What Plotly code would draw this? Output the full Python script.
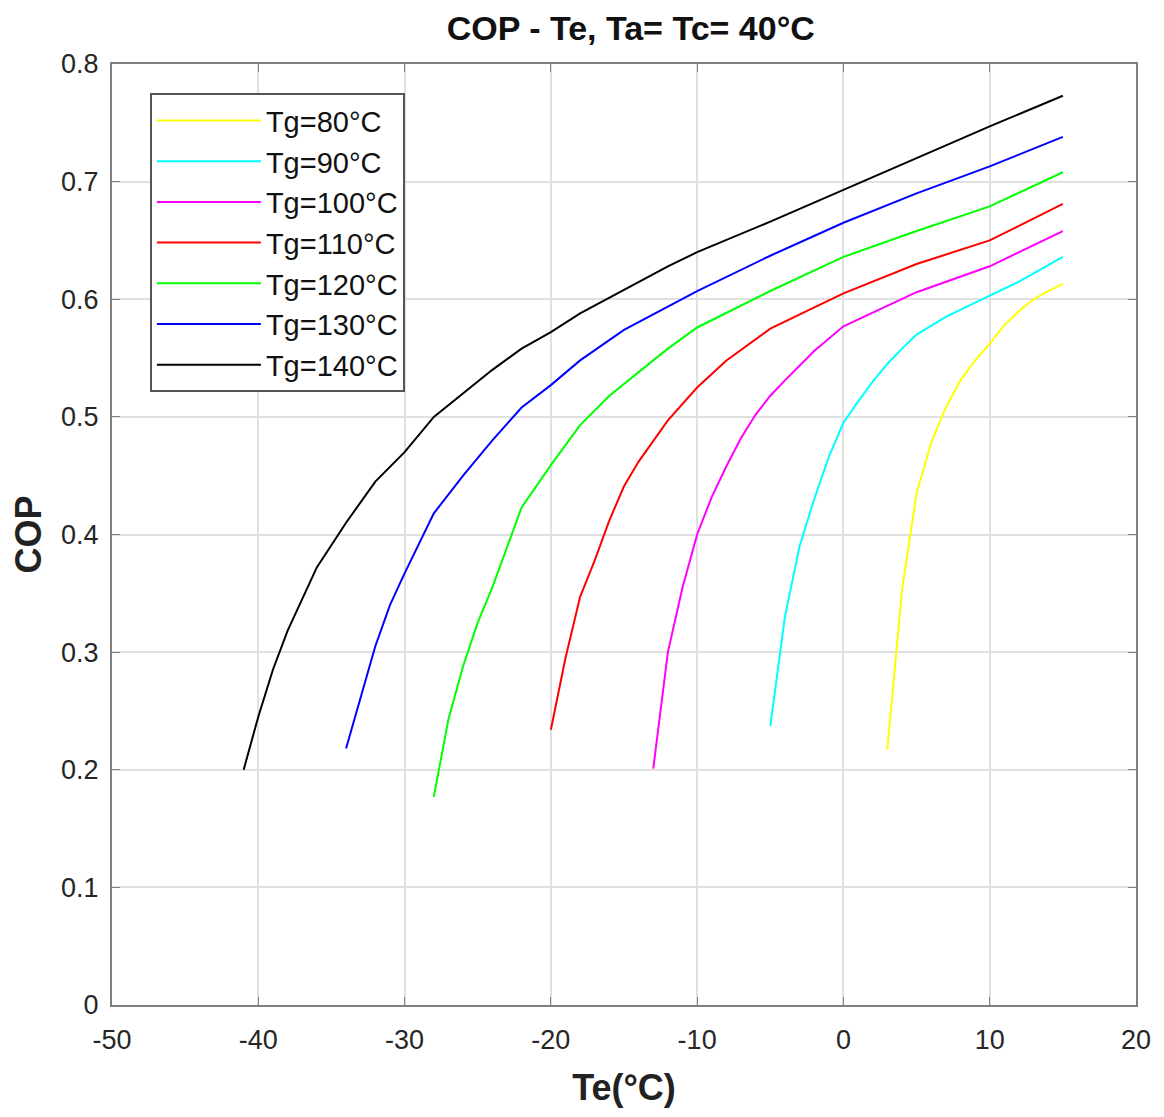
import plotly.graph_objects as go

# COP vs evaporator temperature for each generator temperature
labels = ["Tg=80°C", "Tg=90°C", "Tg=100°C", "Tg=110°C", "Tg=120°C", "Tg=130°C", "Tg=140°C"]
colors = ["#ffff00", "#00ffff", "#ff00ff", "#ff0000", "#00ff00", "#0000ff", "#000000"]

te_80 = [3, 4, 5, 6, 7, 8, 9, 10, 11, 12, 13, 14, 15]
cop_80 = [0.217, 0.352, 0.435, 0.478, 0.508, 0.531, 0.548, 0.562, 0.578, 0.590, 0.600, 0.607, 0.613]

te_90 = [-5, -4, -3, -2, -1, 0, 1, 2, 3, 4, 5, 7, 10, 12, 15]
cop_90 = [0.237, 0.330, 0.390, 0.430, 0.466, 0.495, 0.513, 0.530, 0.545, 0.558, 0.570, 0.585, 0.603, 0.615, 0.636]

te_100 = [-13, -12, -11, -10, -9, -8, -7, -6, -5, -4, -2, 0, 5, 10, 15]
cop_100 = [0.201, 0.300, 0.355, 0.400, 0.432, 0.458, 0.482, 0.502, 0.518, 0.531, 0.556, 0.577, 0.606, 0.628, 0.658]

te_110 = [-20, -19, -18, -17, -16, -15, -14, -12, -10, -8, -5, 0, 5, 10, 15]
cop_110 = [0.234, 0.295, 0.347, 0.378, 0.412, 0.441, 0.462, 0.497, 0.525, 0.548, 0.575, 0.605, 0.630, 0.650, 0.681]

te_120 = [-28, -27, -26, -25, -24, -22, -20, -18, -16, -14, -12, -10, -5, 0, 5, 10, 15]
cop_120 = [0.177, 0.243, 0.288, 0.325, 0.355, 0.423, 0.459, 0.493, 0.518, 0.538, 0.558, 0.576, 0.607, 0.636, 0.658, 0.679, 0.708]

te_130 = [-34, -33, -32, -31, -30, -28, -26, -24, -22, -20, -18, -15, -12, -10, -5, 0, 5, 10, 15]
cop_130 = [0.218, 0.262, 0.305, 0.340, 0.367, 0.418, 0.450, 0.480, 0.508, 0.527, 0.548, 0.574, 0.594, 0.607, 0.637, 0.665, 0.690, 0.713, 0.738]

te_140 = [-41, -40, -39, -38, -36, -34, -32, -30, -28, -26, -24, -22, -20, -18, -15, -12, -10, -5, 0, 5, 10, 15]
cop_140 = [0.200, 0.245, 0.285, 0.318, 0.372, 0.410, 0.445, 0.470, 0.500, 0.520, 0.540, 0.558, 0.572, 0.588, 0.608, 0.628, 0.640, 0.666, 0.693, 0.720, 0.747, 0.773]

x_ticks = [-50, -40, -30, -20, -10, 0, 10, 20]
x_ticktext = ["-50", "-40", "-30", "-20", "-10", "0", "10", "20"]
y_ticks = [0, 0.1, 0.2, 0.3, 0.4, 0.5, 0.6, 0.7, 0.8]
y_ticktext = ["0", "0.1", "0.2", "0.3", "0.4", "0.5", "0.6", "0.7", "0.8"]

series = [(te_80, cop_80), (te_90, cop_90), (te_100, cop_100), (te_110, cop_110),
          (te_120, cop_120), (te_130, cop_130), (te_140, cop_140)]

font_family = "Liberation Sans, Arial, sans-serif"

fig = go.Figure()
for (x, y), name, c in zip(series, labels, colors):
    fig.add_trace(go.Scatter(x=x, y=y, mode="lines", name=name,
                             line=dict(color=c, width=2)))

axis_style = dict(showline=True, mirror="ticks", linecolor="#808080", linewidth=2,
                  ticks="inside", ticklen=8, tickcolor="#808080", tickwidth=1,
                  showgrid=True, gridcolor="#e0e0e0", gridwidth=1.5, zeroline=False,
                  tickfont=dict(size=27, color="#262626", family=font_family))

fig.update_layout(
    width=1164, height=1117,
    paper_bgcolor="white", plot_bgcolor="white",
    margin=dict(l=104, r=36, t=56, b=120),
    title=dict(text="<b>COP - Te, Ta= Tc= 40°C</b>", x=0.535, xanchor="center",
               y=0.982, yanchor="middle",
               font=dict(size=34, color="#111111", family=font_family)),
    xaxis=dict(range=[-50, 20], tickvals=x_ticks, ticktext=x_ticktext,
               ticklabelstandoff=10,
               title=dict(text="<b>Te(°C)</b>", standoff=20,
                          font=dict(size=36, color="#222222", family=font_family)),
               **axis_style),
    yaxis=dict(range=[0, 0.8], tickvals=y_ticks, ticktext=y_ticktext,
               ticklabelstandoff=6,
               title=dict(text="<b>COP</b>", standoff=16,
                          font=dict(size=36, color="#222222", family=font_family)),
               **axis_style),
    legend=dict(x=0.037, y=0.969, xanchor="left", yanchor="top",
                bgcolor="white", bordercolor="#555555", borderwidth=2,
                font=dict(size=29, color="#111111", family=font_family),
                itemwidth=104, tracegroupgap=0),
    showlegend=True,
)

fig.write_html("out.html")
